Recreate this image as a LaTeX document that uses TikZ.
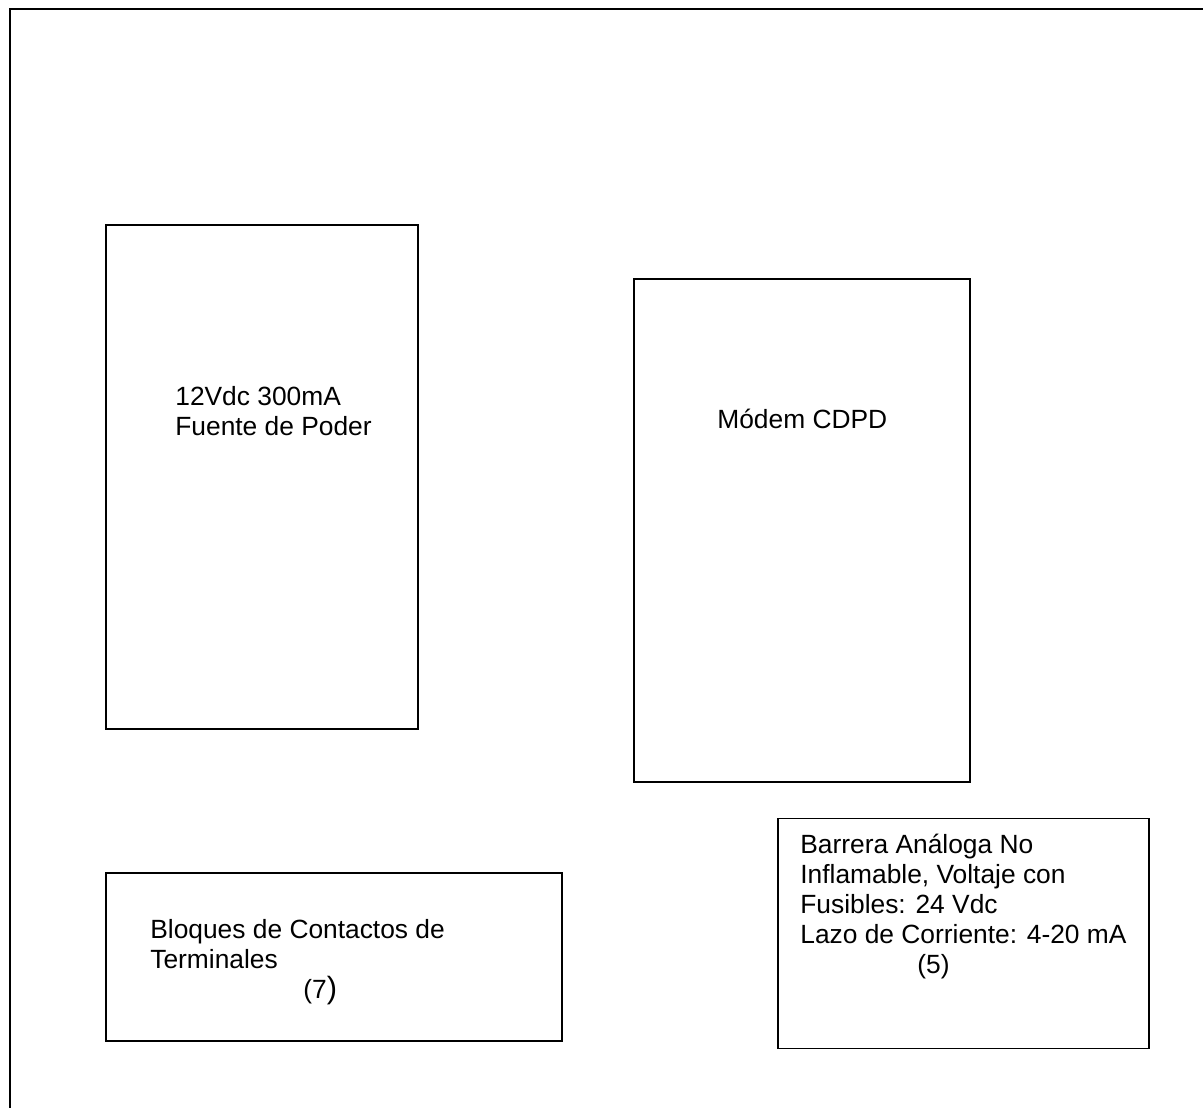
\documentclass[tikz,border=0pt]{standalone}
\usepackage{fontspec}
\setmainfont{Liberation Sans}
\usepackage{tikz}

\begin{document}
\begin{tikzpicture}[x=0.02cm,y=-0.02cm]
        \tikzstyle{every node}+=[inner sep=0pt]
        \tikzstyle{unitbox}=[draw=black, line width=1.1pt, rectangle]
        \tikzstyle{label}=[anchor=base west, align=left, font=\fontsize{15pt}{16.9pt}\selectfont]
        \useasboundingbox (0,0) rectangle (1203,1108);
        % marco exterior
        \draw [black, line width=1.2pt] (10,1108) -- (10,9) -- (1203,9);
        % fuente de poder
        \node [unitbox, minimum width=312*0.02cm, minimum height=504*0.02cm] (fuente) at (262,477) {};
        \node [label] (fuentetxt) at (175,435) {12Vdc 300mA\\Fuente de Poder};
        % modem
        \node [unitbox, minimum width=336*0.02cm, minimum height=503*0.02cm] (modem) at (802,530.5) {};
        \node [label] (modemtxt) at (717,428) {Módem CDPD};
        % bloques de terminales
        \node [unitbox, minimum width=456*0.02cm, minimum height=168*0.02cm] (bloques) at (334,957) {};
        \node [label] (bloquestxt) at (150,968) {Bloques de Contactos de\\Terminales};
        \node [label] (bloquesnum) at (303,998) {(7{\fontsize{17.5pt}{17pt}\selectfont)}};
        % barrera
        \node [unitbox, minimum width=371*0.02cm, minimum height=230*0.02cm] (barrera) at (963.5,933.5) {};
        \node [label] (barreratxt) at (800,943) {Barrera Análoga No\\Inflamable, Voltaje con\\Fusibles: 24 Vdc\\Lazo de Corriente: 4-20 mA};
        \node [label] (barreranum) at (917,973) {(5)};
\end{tikzpicture}
\end{document}
